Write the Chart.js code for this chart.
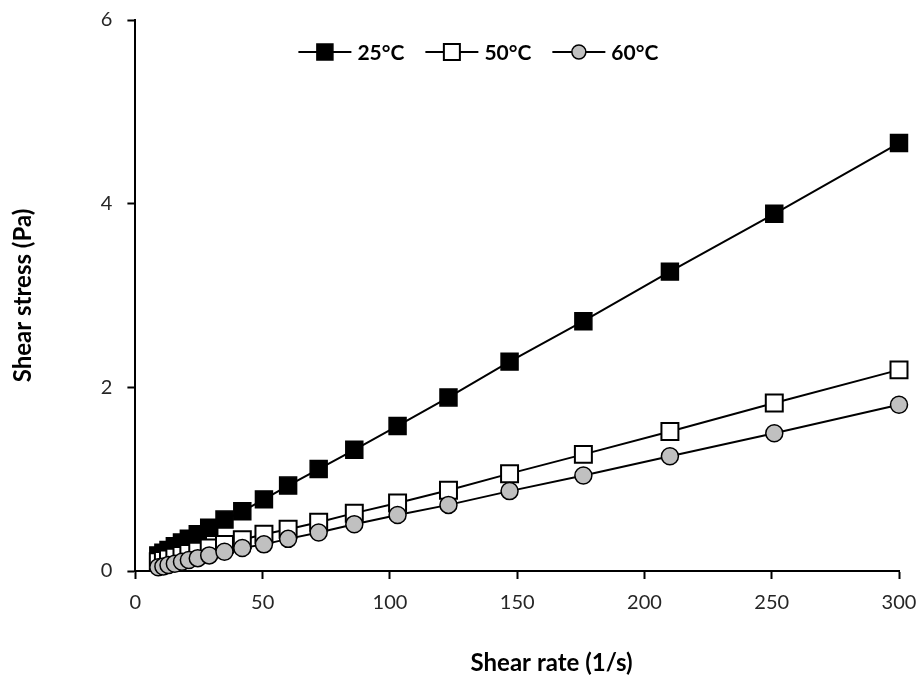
<!DOCTYPE html>
<html>
<head>
<meta charset="utf-8">
<script src="https://cdn.jsdelivr.net/npm/chart.js"></script>
<style>
  body { margin: 0; background: #fff; }
  canvas { display: block; }
</style>
</head>
<body>
<canvas id="flowChart" width="922" height="682"></canvas>
<script>
// shear rate (1/s) and shear stress (Pa) at three temperatures
const shearRate = [9, 11, 13, 15.5, 18.3, 21, 24.5, 29, 35, 42, 50.5, 60, 72, 86, 103, 123, 147, 176, 210, 251, 300];
const stress25 = [0.17, 0.20, 0.23, 0.27, 0.31, 0.35, 0.40, 0.47, 0.56, 0.65, 0.78, 0.93, 1.11, 1.32, 1.58, 1.89, 2.28, 2.72, 3.26, 3.89, 4.66];
const stress50 = [0.10, 0.115, 0.13, 0.15, 0.17, 0.19, 0.215, 0.25, 0.29, 0.34, 0.40, 0.455, 0.53, 0.63, 0.74, 0.88, 1.06, 1.27, 1.52, 1.83, 2.19];
const stress60 = [0.04, 0.05, 0.065, 0.08, 0.10, 0.12, 0.14, 0.17, 0.21, 0.25, 0.29, 0.35, 0.42, 0.51, 0.61, 0.72, 0.87, 1.04, 1.25, 1.50, 1.81];
const seriesLabels = ['25°C', '50°C', '60°C'];
const xTicks = [0, 50, 100, 150, 200, 250, 300];
const yTicks = [0, 2, 4, 6];
const xTitle = 'Shear rate (1/s)';
const yTitle = 'Shear stress (Pa)';

const toPoints = (ys) => shearRate.map((x, i) => ({ x: x, y: ys[i] }));

// legend drawn inside the plot, line - marker - line like the original
const inlineLegend = {
  id: 'inlineLegend',
  afterDatasetsDraw(chart) {
    const ctx = chart.ctx;
    const area = chart.chartArea;
    let x = area.left + 163;
    const y = area.top + 32;
    ctx.save();
    ctx.font = 'bold 21px Lato';
    ctx.textBaseline = 'middle';
    chart.data.datasets.forEach((ds) => {
      ctx.strokeStyle = '#000';
      ctx.lineWidth = 2;
      ctx.beginPath();
      ctx.moveTo(x, y);
      ctx.lineTo(x + 53, y);
      ctx.stroke();
      const cx = x + 26.5;
      ctx.fillStyle = ds.pointBackgroundColor;
      ctx.lineWidth = ds.pointBorderWidth;
      ctx.beginPath();
      if (ds.pointStyle === 'circle') {
        ctx.arc(cx, y, 7, 0, Math.PI * 2);
      } else {
        ctx.rect(cx - 8, y - 8, 16, 16);
      }
      ctx.fill();
      ctx.stroke();
      ctx.fillStyle = '#000';
      ctx.fillText(ds.label, x + 59, y + 1);
      x += 59 + ctx.measureText(ds.label).width + 21;
    });
    ctx.restore();
  }
};

// x axis title sits a bit right of centre in the original
const xAxisTitle = {
  id: 'xAxisTitle',
  afterDraw(chart) {
    const ctx = chart.ctx;
    const area = chart.chartArea;
    ctx.save();
    ctx.font = 'bold 24px Lato';
    ctx.fillStyle = '#000';
    ctx.textAlign = 'center';
    ctx.textBaseline = 'middle';
    ctx.fillText(xTitle, area.left + area.width * 0.545, chart.height - 19);
    ctx.restore();
  }
};

const ctx = document.getElementById('flowChart').getContext('2d');

const flowChart = new Chart(ctx, {
  type: 'line',
  data: {
    datasets: [
      {
        label: seriesLabels[0],
        data: toPoints(stress25),
        borderColor: '#000',
        borderWidth: 2,
        pointStyle: 'rect',
        pointRadius: 12,
        pointBackgroundColor: '#000',
        pointBorderColor: '#000',
        pointBorderWidth: 1.5,
        clip: false,
        order: 3
      },
      {
        label: seriesLabels[1],
        data: toPoints(stress50),
        borderColor: '#000',
        borderWidth: 2,
        pointStyle: 'rect',
        pointRadius: 12,
        pointBackgroundColor: '#fff',
        pointBorderColor: '#000',
        pointBorderWidth: 2,
        clip: false,
        order: 2
      },
      {
        label: seriesLabels[2],
        data: toPoints(stress60),
        borderColor: '#000',
        borderWidth: 2,
        pointStyle: 'circle',
        pointRadius: 8.5,
        pointBackgroundColor: '#c0c0c0',
        pointBorderColor: '#000',
        pointBorderWidth: 1.5,
        clip: false,
        order: 1
      }
    ]
  },
  options: {
    responsive: false,
    animation: false,
    devicePixelRatio: 1,
    layout: {
      padding: { top: 20, right: 23, bottom: 55, left: 0 }
    },
    plugins: {
      legend: { display: false },
      tooltip: { enabled: false }
    },
    scales: {
      x: {
        type: 'linear',
        min: 0,
        max: 300,
        afterBuildTicks: (scale) => { scale.ticks = xTicks.map(v => ({ value: v })); },
        afterFit: (scale) => { scale.paddingLeft = 0; scale.paddingRight = 0; },
        ticks: {
          color: '#262626',
          font: { family: 'Lato', size: 20 },
          padding: 12
        },
        grid: {
          drawOnChartArea: false,
          tickLength: 8,
          tickWidth: 2,
          tickColor: '#000'
        },
        border: { color: '#000', width: 2 }
      },
      y: {
        min: 0,
        max: 6,
        afterBuildTicks: (scale) => { scale.ticks = yTicks.map(v => ({ value: v })); },
        afterFit: (scale) => { scale.paddingTop = 0; scale.paddingBottom = 0; },
        ticks: {
          color: '#262626',
          font: { family: 'Lato', size: 20 },
          padding: 15
        },
        grid: {
          drawOnChartArea: false,
          tickLength: 8,
          tickWidth: 2,
          tickColor: '#000'
        },
        border: { color: '#000', width: 2 },
        title: {
          display: true,
          text: yTitle,
          color: '#000',
          font: { family: 'Lato', size: 24, weight: 'bold' },
          padding: { top: 9, bottom: 48 }
        }
      }
    }
  },
  plugins: [inlineLegend, xAxisTitle]
});
</script>
</body>
</html>
